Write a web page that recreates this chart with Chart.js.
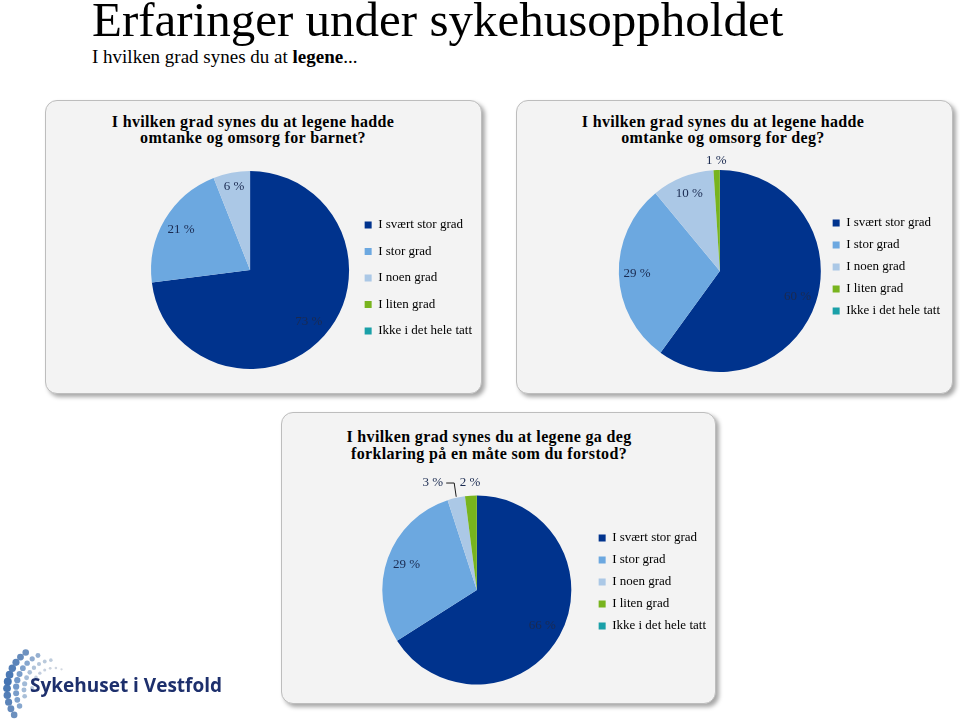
<!DOCTYPE html>
<html>
<head>
<meta charset="utf-8">
<script src="https://cdn.jsdelivr.net/npm/chart.js@4.4.0/dist/chart.umd.min.js"></script>
<style>
  body { margin: 0; width: 960px; height: 722px; background: #fff; position: relative; overflow: hidden; font-family: "Liberation Serif", serif; color: #000; }
  .heading { position: absolute; left: 92px; top: -5px; font-size: 49px; line-height: 49px; white-space: nowrap; }
  .subheading { position: absolute; left: 92px; top: 47px; font-size: 19px; line-height: 19px; white-space: nowrap; }
  .box { position: absolute; box-sizing: border-box; background: #f3f3f3; border: 1px solid #bdbdbd; border-radius: 12px; box-shadow: 3px 3px 4px rgba(0,0,0,0.35); }
  .chart-title { position: absolute; width: 420px; text-align: center; font-weight: bold; font-size: 16px; letter-spacing: 0.35px; line-height: 16px; }
  canvas.pie { position: absolute; }
  .logo-text { position: absolute; left: 30px; top: 676px; font-family: "Open Sans", sans-serif; font-weight: bold; font-size: 19px; line-height: 19px; color: #1d2f6c; white-space: nowrap; }
</style>
</head>
<body>
<div class="heading">Erfaringer under sykehusoppholdet</div>
<div class="subheading">I hvilken grad synes du at <b>legene</b>...</div>

<div class="box" style="left:45px;top:100px;width:437px;height:294px"></div>
<div class="box" style="left:516px;top:100px;width:437px;height:294px"></div>
<div class="box" style="left:281px;top:412px;width:435px;height:292px"></div>

<div class="chart-title" style="left:43px;top:114px">I hvilken grad synes du at legene hadde<br>omtanke og omsorg for barnet?</div>
<div class="chart-title" style="left:513px;top:114px">I hvilken grad synes du at legene hadde<br>omtanke og omsorg for deg?</div>
<div class="chart-title" style="left:279px;top:429px;line-height:16.5px">I hvilken grad synes du at legene ga deg<br>forklaring på en måte som du forstod?</div>

<canvas id="chartBarnet" class="pie" width="437" height="294" style="left:45px;top:100px"></canvas>
<canvas id="chartDeg" class="pie" width="437" height="294" style="left:516px;top:100px"></canvas>
<canvas id="chartForklaring" class="pie" width="435" height="292" style="left:281px;top:412px"></canvas>

<canvas id="logoDots" width="70" height="82" style="position:absolute;left:0;top:640px"></canvas>
<div class="logo-text">Sykehuset i Vestfold</div>

<script>
// Svarkategorier og prosentverdier lest av figuren
const categories = ['I svært stor grad', 'I stor grad', 'I noen grad', 'I liten grad', 'Ikke i det hele tatt'];
const barnetValues = [73, 21, 6, 0, 0];
const degValues = [60, 29, 10, 1, 0];
const forklaringValues = [66, 29, 3, 2, 0];

const sliceColors = ['#00338d', '#6ca8e0', '#abc8e6', '#78b41e', '#1aa0a8'];

// Tegner prosentetiketter på kakestykkene (f = andel av radius fra sentrum)
const sliceLabels = {
    id: 'sliceLabels',
    afterDatasetsDraw(chart, args, opts) {
        const ctx = chart.ctx;
        const meta = chart.getDatasetMeta(0);
        const values = chart.data.datasets[0].data;
        ctx.save();
        ctx.font = '13px "Liberation Serif"';
        ctx.fillStyle = '#1a2a50';
        ctx.strokeStyle = '#1a1a1a';
        ctx.lineWidth = 1;
        ctx.textAlign = 'center';
        ctx.textBaseline = 'middle';
        meta.data.forEach(function(arc, i) {
            if (!values[i]) return;
            const p = (opts.place && opts.place[i]) || {};
            const props = arc.getProps(['x', 'y', 'startAngle', 'endAngle', 'outerRadius'], true);
            const mid = (props.startAngle + props.endAngle) / 2;
            const r = props.outerRadius * (p.f || 0.8);
            const lx = props.x + Math.cos(mid) * r + (p.dx || 0);
            const ly = props.y + Math.sin(mid) * r + (p.dy || 0);
            const text = values[i] + ' %';
            ctx.fillText(text, lx, ly);
            if (p.leader) {
                const w = ctx.measureText(text).width;
                const ex = props.x + Math.cos(mid) * props.outerRadius;
                const ey = props.y + Math.sin(mid) * props.outerRadius;
                ctx.beginPath();
                ctx.moveTo(lx + w / 2 + 3, ly);
                ctx.lineTo(ex - 2, ly);
                ctx.lineTo(ex, ey - 1);
                ctx.stroke();
            }
        });
        ctx.restore();
    }
};

function makePie(id, values, pad, legendPad, legendOffset, place) {
    return new Chart(document.getElementById(id).getContext('2d'), {
        type: 'pie',
        data: {
            labels: categories,
            datasets: [{
                data: values,
                backgroundColor: sliceColors,
                borderWidth: 0
            }]
        },
        options: {
            responsive: false,
            animation: false,
            layout: { padding: pad },
            plugins: {
                tooltip: { enabled: false },
                legend: {
                    position: 'right',
                    align: 'start',
                    title: {
                        display: true,
                        text: '',
                        font: { size: 2, lineHeight: 1 },
                        padding: { top: legendOffset - 2, bottom: 0 }
                    },
                    labels: {
                        boxWidth: 7,
                        boxHeight: 7,
                        padding: legendPad,
                        color: '#000',
                        font: { family: 'Liberation Serif', size: 13 }
                    }
                },
                sliceLabels: { place: place }
            }
        },
        plugins: [sliceLabels]
    });
}

makePie('chartBarnet', barnetValues,
    { top: 71, bottom: 25, left: 104, right: 0 }, 13.5, 34,
    [{ f: 0.79 }, { f: 0.81 }, { f: 0.86 }]);

makePie('chartDeg', degValues,
    { top: 70, bottom: 22, left: 100, right: 3 }, 9, 37.5,
    [{ f: 0.81 }, { f: 0.82 }, { f: 0.82 }, { f: 1.09 }]);

makePie('chartForklaring', forklaringValues,
    { top: 83.5, bottom: 19.5, left: 83, right: 0 }, 9, 27,
    [{ f: 0.79 }, { f: 0.79 }, { f: 1.16, dx: -20, leader: true }, { f: 1.135 }]);

// Logo: prikkebue
(function() {
    const ctx = document.getElementById('logoDots').getContext('2d');
    const cx = 54, cy = 50;
    const rows = [
        { R: 47, a0: 148, a1: 238, step: 8.5, size: 4.0, color: [66, 115, 178] },
        { R: 38, a0: 155, a1: 252, step: 10, size: 3.2, color: [110, 150, 200] },
        { R: 30, a0: 168, a1: 272, step: 12, size: 2.6, color: [160, 185, 215] },
        { R: 22, a0: 185, a1: 290, step: 15, size: 2.0, color: [185, 200, 222] }
    ];
    rows.forEach(function(row) {
        for (let a = row.a0; a <= row.a1; a += row.step) {
            const t = Math.abs(a - 190) / 95;
            const rad = a * Math.PI / 180;
            const s = row.size * (1 - 0.4 * t);
            const c = row.color.map(function(v) { return Math.round(v + (225 - v) * t * 0.6); });
            ctx.fillStyle = 'rgb(' + c.join(',') + ')';
            ctx.beginPath();
            ctx.arc(cx + row.R * Math.cos(rad), cy + row.R * Math.sin(rad), s, 0, Math.PI * 2);
            ctx.fill();
        }
    });
})();
</script>
</body>
</html>
